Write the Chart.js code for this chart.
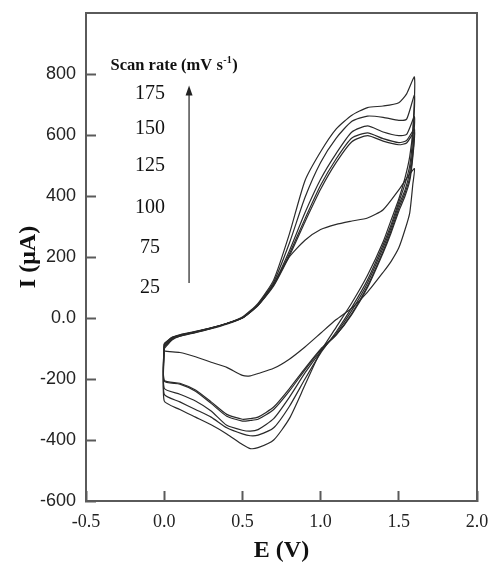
<!DOCTYPE html>
<html>
<head>
<meta charset="utf-8">
<title>Cyclic voltammograms</title>
<script src="https://cdn.jsdelivr.net/npm/chart.js@4.4.1/dist/chart.umd.min.js"></script>
<style>
  html, body { margin: 0; padding: 0; background: #fff; }
  #wrap { position: relative; width: 489px; height: 565px; }
</style>
</head>
<body>
<div id="wrap"><canvas id="cv"></canvas></div>
<script>
(function() {
  'use strict';

  // scan rates, mV/s (largest first, as in the legend column)
  var scanRates = [175, 150, 125, 100, 75, 25];

  // potential grid, V: anodic sweep 0 -> 1.6, cathodic sweep back to 0
  var fwdE = [0, 0.05, 0.1, 0.2, 0.3, 0.4, 0.5, 0.6, 0.7, 0.8, 0.9, 1.0, 1.1, 1.2, 1.3, 1.4, 1.5, 1.55, 1.6];
  var revE = [1.59, 1.57, 1.54, 1.5, 1.45, 1.4, 1.3, 1.2, 1.1, 1.0, 0.9, 0.8, 0.7, 0.6, 0.55, 0.5, 0.4, 0.3, 0.2, 0.1, 0];

  // current, uA, anodic sweep
  var fwd175 = [-95, -70, -60, -47, -34, -18, 3, 48, 125, 275, 450, 545, 620, 665, 690, 695, 706, 735, 790];
  var fwd150 = [-92, -68, -58, -46, -33, -18, 2, 45, 118, 245, 395, 510, 590, 645, 662, 658, 648, 652, 730];
  var fwd125 = [-88, -66, -57, -45, -33, -18, 1, 43, 112, 220, 345, 455, 540, 610, 630, 610, 598, 602, 660];
  var fwd100 = [-85, -64, -56, -45, -32, -18, 0, 42, 108, 210, 325, 435, 522, 590, 607, 588, 575, 582, 620];
  var fwd75 = [-84, -63, -55, -44, -32, -18, 0, 41, 105, 203, 315, 422, 510, 578, 598, 580, 568, 574, 610];
  var fwd25 = [-100, -72, -60, -48, -35, -20, 0, 42, 112, 200, 255, 290, 307, 318, 328, 355, 420, 458, 490];

  // current, uA, cathodic sweep
  var rev175 = [620, 530, 460, 390, 320, 250, 140, 50, -30, -110, -220, -330, -400, -425, -428, -415, -380, -350, -325, -300, -272];
  var rev150 = [600, 500, 440, 380, 305, 240, 125, 35, -45, -115, -200, -290, -360, -384, -386, -380, -360, -325, -300, -275, -250];
  var rev125 = [560, 480, 420, 370, 295, 230, 115, 25, -50, -110, -180, -260, -330, -366, -371, -368, -352, -305, -272, -250, -230];
  var rev100 = [540, 460, 410, 360, 285, 220, 105, 15, -55, -105, -170, -240, -300, -332, -336, -338, -322, -280, -240, -217, -207];
  var rev75 = [530, 450, 400, 350, 278, 214, 100, 12, -55, -102, -165, -232, -292, -325, -330, -332, -316, -275, -236, -214, -204];
  var rev25 = [440, 345, 290, 230, 185, 150, 85, 33, -5, -50, -95, -135, -165, -182, -190, -188, -162, -145, -127, -113, -108];

  var fwdI = [fwd175, fwd150, fwd125, fwd100, fwd75, fwd25];
  var revI = [rev175, rev150, rev125, rev100, rev75, rev25];

  // axis ticks
  var xTicks = [-0.5, 0.0, 0.5, 1.0, 1.5, 2.0];
  var yTicks = [-600, -400, -200, 0, 200, 400, 600, 800];

  var INK = '#2a2a2a';
  var FRAME = '#5a5a5a';
  var SERIF = "'Liberation Serif', 'Times New Roman', serif";
  var SANS = "'Liberation Sans', Arial, sans-serif";

  /** one closed loop: anodic sweep, cathodic sweep, back to start */
  function loopPoints(k) {
    var pts = [];
    for (var i = 0; i < fwdE.length; i++) pts.push({ x: fwdE[i], y: fwdI[k][i] });
    for (var j = 0; j < revE.length; j++) pts.push({ x: revE[j], y: revI[k][j] });
    pts.push({ x: fwdE[0], y: fwdI[k][0] });
    return pts;
  }

  var datasets = scanRates.map(function(rate, k) {
    return {
      label: rate + ' mV/s',
      data: loopPoints(k),
      showLine: true,
      borderColor: INK,
      borderWidth: 1.2,
      pointRadius: 0,
      tension: 0.2,
      fill: false
    };
  });

  /** drop the edge padding Chart.js reserves for end labels */
  function noEdgePadding(s) {
    s.paddingTop = 0;
    s.paddingBottom = 0;
    s.paddingLeft = 0;
    s.paddingRight = 0;
  }

  /** box round the plot area */
  var framePlugin = {
    id: 'frame',
    afterDraw: function(chart) {
      var a = chart.chartArea;
      var ctx = chart.ctx;
      ctx.save();
      ctx.strokeStyle = FRAME;
      ctx.lineWidth = 2;
      ctx.strokeRect(a.left, a.top, a.right - a.left, a.bottom - a.top);
      ctx.restore();
    }
  };

  /** scan-rate column with the arrow */
  var ratePlugin = {
    id: 'rates',
    afterDraw: function(chart) {
      var xs = chart.scales.x, ys = chart.scales.y;
      var ctx = chart.ctx;
      ctx.save();
      ctx.fillStyle = '#111';

      // heading
      var hx = xs.getPixelForValue(-0.343), hy = ys.getPixelForValue(828);
      ctx.textBaseline = 'middle';
      ctx.textAlign = 'left';
      ctx.font = 'bold 16.5px ' + SERIF;
      var head = 'Scan rate (mV s';
      ctx.fillText(head, hx, hy);
      var w = ctx.measureText(head).width;
      ctx.font = 'bold 10px ' + SERIF;
      ctx.fillText('-1', hx + w + 0.5, hy - 5);
      var w2 = ctx.measureText('-1').width;
      ctx.font = 'bold 16.5px ' + SERIF;
      ctx.fillText(')', hx + w + w2 + 1, hy);

      // rate values
      var rateY = [736, 621, 499, 361, 230, 99];
      ctx.font = '20px ' + SERIF;
      ctx.textAlign = 'center';
      var nx = xs.getPixelForValue(-0.091);
      for (var i = 0; i < scanRates.length; i++) {
        ctx.fillText(String(scanRates[i]), nx, ys.getPixelForValue(rateY[i]));
      }

      // arrow
      var ax = xs.getPixelForValue(0.159);
      var ay0 = ys.getPixelForValue(115), ay1 = ys.getPixelForValue(762);
      ctx.strokeStyle = '#333';
      ctx.lineWidth = 1.3;
      ctx.beginPath();
      ctx.moveTo(ax, ay0);
      ctx.lineTo(ax, ay1 + 8);
      ctx.stroke();
      ctx.beginPath();
      ctx.moveTo(ax, ay1);
      ctx.lineTo(ax - 3.5, ay1 + 10);
      ctx.lineTo(ax + 3.5, ay1 + 10);
      ctx.closePath();
      ctx.fillStyle = '#222';
      ctx.fill();
      ctx.restore();
    }
  };

  new Chart(document.getElementById('cv'), {
    type: 'scatter',
    data: { datasets: datasets },
    plugins: [framePlugin, ratePlugin],
    options: {
      responsive: true,
      maintainAspectRatio: false,
      animation: false,
      layout: { padding: { left: 0, right: 12, top: 13, bottom: 0 } },
      plugins: {
        legend: { display: false },
        tooltip: { enabled: false }
      },
      scales: {
        x: {
          type: 'linear',
          min: -0.5,
          max: 2.0,
          afterBuildTicks: function(s) { s.ticks = xTicks.map(function(v) { return { value: v }; }); },
          afterFit: function(s) { s.height = 64; noEdgePadding(s); },
          border: { display: true, color: FRAME, width: 2 },
          grid: { drawOnChartArea: false, tickLength: -10, tickColor: FRAME, tickWidth: 2 },
          ticks: {
            padding: 20,
            color: '#222',
            font: { family: SERIF, size: 18 },
            callback: function(v) { return Number(v).toFixed(1); }
          },
          title: {
            display: true,
            text: 'E (V)',
            color: '#111',
            font: { family: SERIF, size: 24, weight: 'bold' },
            padding: { top: 0, bottom: 0 }
          }
        },
        y: {
          type: 'linear',
          min: -600,
          max: 1000,
          afterBuildTicks: function(s) { s.ticks = yTicks.map(function(v) { return { value: v }; }); },
          afterFit: function(s) { s.width = 86; noEdgePadding(s); },
          border: { display: true, color: FRAME, width: 2 },
          grid: { drawOnChartArea: false, tickLength: -10, tickColor: FRAME, tickWidth: 2 },
          ticks: {
            padding: 20,
            color: '#222',
            font: { family: SANS, size: 18 },
            callback: function(v) { return v === 0 ? '0.0' : String(v); }
          },
          title: {
            display: true,
            text: 'I (μA)',
            color: '#111',
            font: { family: SERIF, size: 24, weight: 'bold' },
            padding: { top: 14, bottom: 0 }
          }
        }
      }
    }
  });
})();
</script>
</body>
</html>
